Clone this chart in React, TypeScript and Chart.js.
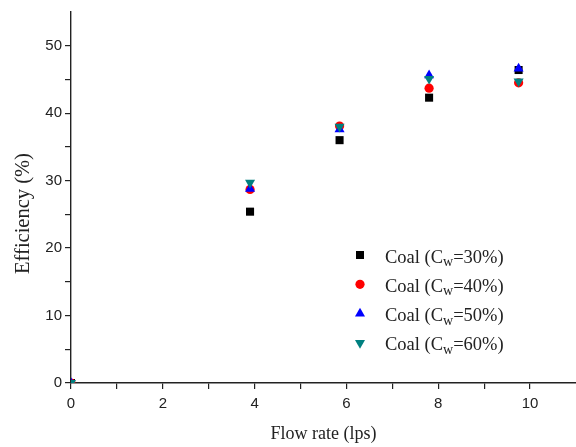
import React, { useEffect, useRef } from 'react';
import { Chart, registerables } from 'chart.js';
import { drawPoint } from 'chart.js/helpers';

Chart.register(...registerables);

// Flow rate (lps) at which efficiency was measured
const flowRates = [0, 3.9, 5.85, 7.8, 9.75];

// Efficiency (%) for each solids concentration
const effCw30 = [0, 25.4, 36.0, 42.3, 46.4];
const effCw40 = [0, 28.7, 38.1, 43.7, 44.5];
const effCw50 = [0, 28.8, 37.6, 45.6, 46.6];
const effCw60 = [0, 29.7, 38.0, 45.1, 44.7];

const concentrations = ['30%', '40%', '50%', '60%'];
const seriesValues = [effCw30, effCw40, effCw50, effCw60];

// Labelled (major) ticks; minor ticks sit halfway between them
const xMajorTicks = [0, 2, 4, 6, 8, 10];
const yMajorTicks = [0, 10, 20, 30, 40, 50];

const seriesColors = ['#000000', '#ff0000', '#0000ff', '#008080'];
const seriesStyles = ['rect', 'circle', 'triangle', 'triangle'];
const seriesRotation = [0, 0, 0, 180];
const seriesRadius = [5.7, 4.6, 5.8, 5.8];

const SERIF = '"Liberation Serif", "Times New Roman", serif';
const SANS = '"Liberation Sans", Arial, sans-serif';
const INK = '#222222';

const annotations = {
  id: 'titlesAndKey',
  afterDraw(chart: any) {
    const { ctx, chartArea } = chart;
    ctx.save();
    ctx.fillStyle = INK;

    // x-axis title
    ctx.font = `18px ${SERIF}`;
    ctx.textAlign = 'center';
    ctx.textBaseline = 'alphabetic';
    ctx.fillText('Flow rate (lps)', (chartArea.left + chartArea.right) / 2, chart.height - 8);

    // y-axis title
    ctx.save();
    ctx.translate(29, (chartArea.top + chartArea.bottom) / 2 + 16);
    ctx.rotate(-Math.PI / 2);
    ctx.font = `20.5px ${SERIF}`;
    ctx.fillText('Efficiency (%)', 0, 0);
    ctx.restore();

    // key with subscripted C_w
    const markerX = 360;
    const textX = 385;
    const rowTop = 255;
    const rowGap = 29.3;
    chart.data.datasets.forEach((ds: any, i: number) => {
      const y = rowTop + i * rowGap;
      ctx.fillStyle = ds.pointBackgroundColor;
      drawPoint(ctx, {
        pointStyle: ds.pointStyle,
        radius: ds.pointRadius,
        rotation: ds.pointRotation,
        borderWidth: 0,
      } as any, markerX, y);

      ctx.fillStyle = INK;
      ctx.textAlign = 'left';
      ctx.textBaseline = 'alphabetic';
      let x = textX;
      ctx.font = `18.5px ${SERIF}`;
      const head = 'Coal (C';
      ctx.fillText(head, x, y + 7.5);
      x += ctx.measureText(head).width;
      ctx.font = `14px ${SERIF}`;
      ctx.fillText('w', x, y + 11);
      x += ctx.measureText('w').width;
      ctx.font = `18.5px ${SERIF}`;
      ctx.fillText(`=${concentrations[i]})`, x, y + 7.5);
    });
    ctx.restore();
  },
};

export default function App() {
  const canvasRef = useRef<HTMLCanvasElement | null>(null);

  useEffect(() => {
    document.body.style.margin = '0';
    const canvas = canvasRef.current;
    if (!canvas) return;

    const datasets = seriesValues.map((vals, i) => ({
      label: `Coal (Cw=${concentrations[i]})`,
      data: flowRates.map((x, j) => ({ x, y: vals[j] })),
      pointStyle: seriesStyles[i],
      pointRotation: seriesRotation[i],
      pointRadius: seriesRadius[i],
      pointBackgroundColor: seriesColors[i],
      pointBorderColor: seriesColors[i],
      pointBorderWidth: 0,
      showLine: false,
      clip: 0,
      order: seriesValues.length - i,
    }));

    const axisCommon = {
      grid: {
        display: true,
        drawOnChartArea: false,
        drawTicks: true,
        tickLength: 6,
        color: INK,
        lineWidth: 1.2,
      },
      border: { display: true, color: INK, width: 1.4 },
    };

    const chart = new Chart(canvas, {
      type: 'scatter',
      data: { datasets },
      plugins: [annotations],
      options: {
        animation: false,
        responsive: false,
        maintainAspectRatio: false,
        layout: { autoPadding: false, padding: { top: 12, right: 0, left: 0, bottom: 0 } },
        plugins: { legend: { display: false }, tooltip: { enabled: false } },
        scales: {
          x: {
            type: 'linear',
            min: 0,
            max: 11,
            ...axisCommon,
            ticks: {
              stepSize: 1,
              autoSkip: false,
              maxRotation: 0,
              padding: 6,
              color: INK,
              font: { family: SANS, size: 15 },
              callback: (v: any) => (xMajorTicks.includes(Number(v)) ? String(v) : ''),
            },
            afterBuildTicks: (scale: any) => {
              scale.ticks = scale.ticks.filter((t: any) => t.value <= xMajorTicks[xMajorTicks.length - 1]);
            },
            afterFit: (scale: any) => {
              scale.height = 64;
              scale.paddingLeft = 0;
              scale.paddingRight = 0;
            },
          },
          y: {
            type: 'linear',
            min: 0,
            max: 55,
            ...axisCommon,
            ticks: {
              stepSize: 5,
              autoSkip: false,
              padding: 3,
              color: INK,
              font: { family: SANS, size: 15 },
              callback: (v: any) => (yMajorTicks.includes(Number(v)) ? String(v) : ''),
            },
            afterBuildTicks: (scale: any) => {
              scale.ticks = scale.ticks.filter((t: any) => t.value <= yMajorTicks[yMajorTicks.length - 1]);
            },
            afterFit: (scale: any) => {
              scale.width = 71;
              scale.paddingTop = 0;
              scale.paddingBottom = 0;
            },
          },
        },
      } as any,
    });

    return () => chart.destroy();
  }, []);

  return (
    <div style={{ width: 576, height: 447 }}>
      <canvas ref={canvasRef} width={576} height={447} style={{ display: 'block' }} />
    </div>
  );
}
